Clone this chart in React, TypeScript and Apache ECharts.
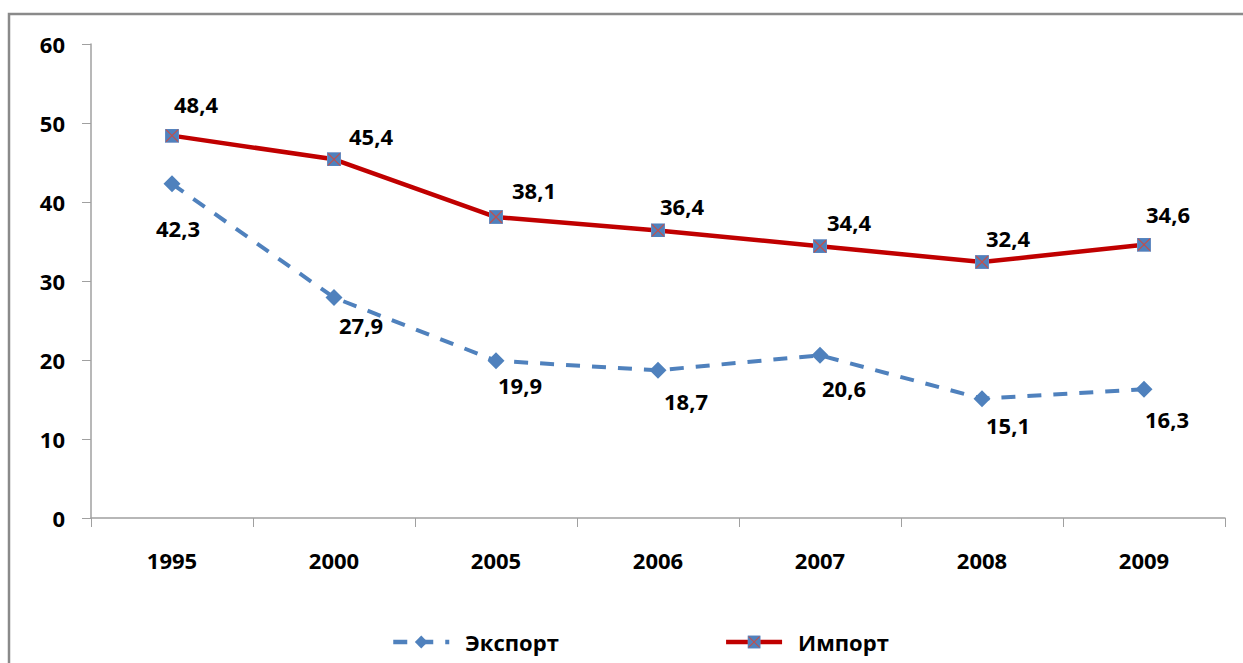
import React, { useEffect, useRef } from "react";
import * as echarts from "echarts";

const years = ["1995", "2000", "2005", "2006", "2007", "2008", "2009"];
const exportValues = [42.3, 27.9, 19.9, 18.7, 20.6, 15.1, 16.3];
const importValues = [48.4, 45.4, 38.1, 36.4, 34.4, 32.4, 34.6];
const yTicks = [0, 10, 20, 30, 40, 50, 60];

// label offsets (styling only)
const exportLabelOffsets = [[6, 44], [27, 27], [24, 24], [28, 31], [24, 33], [26, 26], [23, 30]];
const importLabelOffsets = [[24, -32], [37, -23], [38, -27], [24, -24], [29, -24], [26, -24], [24, -31]];

const fmt = (v: number) => v.toFixed(1).replace(".", ",");

const squareX =
  "image://data:image/svg+xml;charset=utf-8," +
  encodeURIComponent(
    '<svg xmlns="http://www.w3.org/2000/svg" width="14" height="14" viewBox="0 0 14 14">' +
      '<rect x="0" y="0" width="14" height="14" fill="#4F81BD" stroke="#7a97c8" stroke-width="1"/>' +
      '<line x1="1" y1="1" x2="13" y2="13" stroke="#C0504D" stroke-width="1.2"/>' +
      '<line x1="13" y1="1" x2="1" y2="13" stroke="#C0504D" stroke-width="1.2"/>' +
      "</svg>"
  );

const FONT = "'Open Sans', 'Noto Sans', sans-serif";
const FS = 22;

export default function App() {
  const ref = useRef<HTMLDivElement>(null);
  useEffect(() => {
    if (!ref.current) return;
    const chart = echarts.init(ref.current, undefined, { renderer: "svg" });
    const labelStyle = {
      show: true,
      position: "inside" as const,
      fontSize: FS,
      fontWeight: "bold" as const,
      color: "#000",
      fontFamily: FONT,
      formatter: (p: any) => fmt(p.value),
    };
    chart.setOption({
      animation: false,
      backgroundColor: "#fff",
      textStyle: { fontFamily: FONT },
      graphic: [
        {
          type: "rect",
          shape: { x: 9, y: 14, width: 1260, height: 700 },
          style: { fill: "none", stroke: "#8a8a8a", lineWidth: 2.5 },
          silent: true,
        },
      ],
      grid: { left: 91, right: 18, top: 44, bottom: 145 },
      legend: {
        bottom: 5,
        left: 386,
        itemWidth: 56,
        itemHeight: 16,
        itemGap: 165,
        textStyle: {
          fontSize: FS,
          fontWeight: "bold",
          color: "#000",
          fontFamily: FONT,
          padding: [0, 0, 0, 11],
        },
        data: [
          { name: "Экспорт", lineStyle: { width: 4.5 } },
          { name: "Импорт", lineStyle: { width: 4.5 } },
        ],
      },
      xAxis: {
        type: "category",
        data: years,
        boundaryGap: true,
        axisLine: { lineStyle: { color: "#a0a0a0", width: 1.5 } },
        axisTick: { show: true, length: 9, inside: false, lineStyle: { color: "#a0a0a0" } },
        axisLabel: { fontSize: FS, fontWeight: "bold", color: "#000", margin: 31, fontFamily: FONT },
        splitLine: { show: false },
      },
      yAxis: {
        type: "value",
        min: yTicks[0],
        max: yTicks[yTicks.length - 1],
        interval: 10,
        axisLine: { show: true, lineStyle: { color: "#a0a0a0", width: 1.5 } },
        axisTick: { show: true, length: 9, lineStyle: { color: "#a0a0a0" } },
        axisLabel: { fontSize: FS, fontWeight: "bold", color: "#000", margin: 26, fontFamily: FONT },
        splitLine: { show: false },
      },
      series: [
        {
          name: "Экспорт",
          type: "line",
          data: exportValues.map((v, i) => ({
            value: v,
            label: { offset: exportLabelOffsets[i] },
          })),
          symbol: "diamond",
          symbolSize: 17,
          itemStyle: { color: "#4F81BD" },
          lineStyle: { color: "#4F81BD", width: 4, type: [14, 12] },
          label: labelStyle,
          z: 3,
        },
        {
          name: "Импорт",
          type: "line",
          data: importValues.map((v, i) => ({
            value: v,
            label: { offset: importLabelOffsets[i] },
          })),
          symbol: squareX,
          symbolSize: 14,
          itemStyle: { color: "#C00000" },
          lineStyle: { color: "#C00000", width: 4.5 },
          label: labelStyle,
          z: 4,
        },
      ],
    });
    return () => chart.dispose();
  }, []);
  return (
    <div
      ref={ref}
      style={{ position: "fixed", left: 0, top: 0, width: 1243, height: 663 }}
    />
  );
}
